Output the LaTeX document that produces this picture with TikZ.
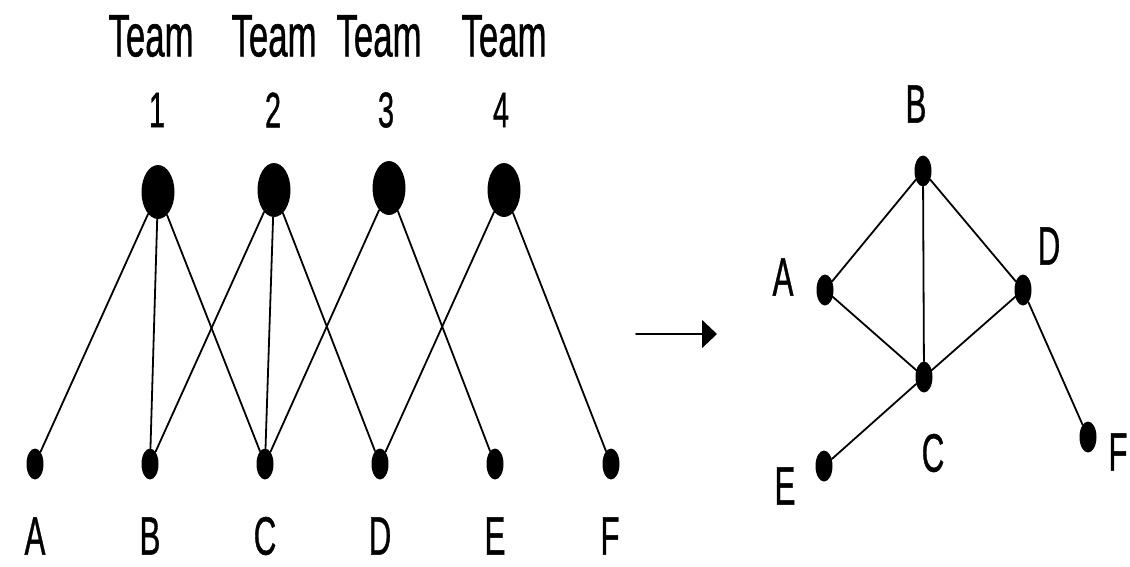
\documentclass[tikz,border=0pt]{standalone}
\usepackage{fontspec}
\setmainfont[FakeBold=1]{Liberation Sans}
\usetikzlibrary{shapes.geometric,arrows.meta}
\newcommand{\thin}[1]{\scalebox{0.58}[1]{#1}}

\begin{document}
\begin{tikzpicture}[x=1pt,y=-1pt,line cap=round,
  team/.style={ellipse,fill=black,inner sep=0pt,minimum width=33pt,minimum height=54pt},
  member/.style={ellipse,fill=black,inner sep=0pt,minimum width=17pt,minimum height=31pt},
  lbl/.style={inner sep=0pt,font=\fontsize{54}{54}\selectfont},
  teamlbl/.style={inner sep=0pt,font=\fontsize{60}{60}\selectfont},
  numlbl/.style={inner sep=0pt,font=\fontsize{50}{50}\selectfont},
  link/.style={line width=1.8pt}]
\path[use as bounding box] (0,0) rectangle (1130,566);
% teams on top
\node[teamlbl] at (151,36) {\thin{Team}};
\node[teamlbl] at (274,36) {\thin{Team}};
\node[teamlbl] at (379,36) {\thin{Team}};
\node[teamlbl] at (504,36) {\thin{Team}};
\node[numlbl] at (157,110) {\thin{1}};
\node[numlbl] at (273,110) {\thin{2}};
\node[numlbl] at (386,110) {\thin{3}};
\node[numlbl] at (501,110) {\thin{4}};
\node[team] (t1) at (158,192) {};
\node[team] (t2) at (274,190) {};
\node[team] (t3) at (389,188) {};
\node[team] (t4) at (504,190) {};
% members below
\node[member] (a) at (35,464) {};
\node[member] (b) at (150,464) {};
\node[member] (c) at (265,464) {};
\node[member] (d) at (380,464) {};
\node[member] (e) at (495,464) {};
\node[member] (f) at (611,464) {};
\node[lbl] at (35,536) {\thin{A}};
\node[lbl] at (150,536) {\thin{B}};
\node[lbl] at (265,536) {\thin{C}};
\node[lbl] at (380,536) {\thin{D}};
\node[lbl] at (495,536) {\thin{E}};
\node[lbl] at (610,536) {\thin{F}};
\draw[link] (t1) -- (a);
\draw[link] (t1) -- (b);
\draw[link] (t1) -- (c);
\draw[link] (t2) -- (b);
\draw[link] (t2) -- (c);
\draw[link] (t2) -- (d);
\draw[link] (t3) -- (c);
\draw[link] (t3) -- (e);
\draw[link] (t4) -- (d);
\draw[link] (t4) -- (f);
% projection arrow
\coordinate (p0) at (636,334);
\coordinate (p1) at (717,334);
\draw[link,-{Triangle[length=15pt,width=28pt]}] (p0) -- (p1);
% one-mode network
\node[member] (rb) at (923,171) {};
\node[member] (ra) at (825,290) {};
\node[member] (rd) at (1023,290) {};
\node[member] (rc) at (924,377) {};
\node[member] (re) at (824,466) {};
\node[member] (rf) at (1088,437) {};
\node[lbl] at (916,104) {\thin{B}};
\node[lbl] at (783,277) {\thin{A}};
\node[lbl] at (1049,246) {\thin{D}};
\node[lbl] at (933,453) {\thin{C}};
\node[lbl] at (785,486) {\thin{E}};
\node[lbl] at (1118,452) {\thin{F}};
\draw[link] (rb) -- (ra);
\draw[link] (rb) -- (rc);
\draw[link] (rb) -- (rd);
\draw[link] (ra) -- (rc);
\draw[link] (rc) -- (rd);
\draw[link] (rd) -- (rf);
\draw[link] (rc) -- (re);
\end{tikzpicture}
\end{document}
